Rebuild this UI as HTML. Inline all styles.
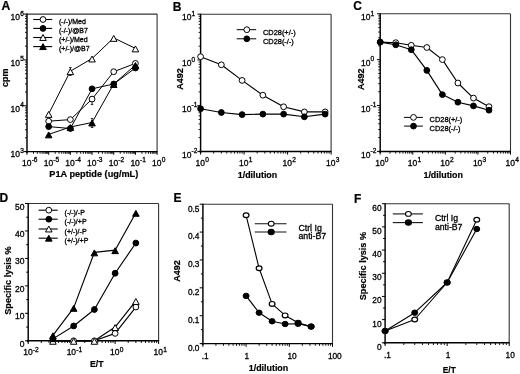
<!DOCTYPE html>
<html><head><meta charset="utf-8"><style>
html,body{margin:0;padding:0;background:#fff;}
svg{display:block;font-family:"Liberation Sans", sans-serif;filter:grayscale(1) blur(0.25px);}
</style></head><body>
<svg width="520" height="374" viewBox="0 0 520 374">
<rect width="520" height="374" fill="#fff"/>
<line x1="27" y1="14.1" x2="157.1" y2="14.1" stroke="#333" stroke-width="1.1"/>
<line x1="157.1" y1="14.1" x2="157.1" y2="151.6" stroke="#333" stroke-width="1.1"/>
<line x1="27" y1="13.6" x2="27" y2="153.1" stroke="#000" stroke-width="1.45"/>
<line x1="25.5" y1="151.6" x2="157.6" y2="151.6" stroke="#000" stroke-width="1.45"/>
<line x1="23.8" y1="151.6" x2="27" y2="151.6" stroke="#000" stroke-width="1"/>
<line x1="25" y1="137.8" x2="27" y2="137.8" stroke="#000" stroke-width="0.9"/>
<line x1="25" y1="129.73" x2="27" y2="129.73" stroke="#000" stroke-width="0.9"/>
<line x1="25" y1="124.01" x2="27" y2="124.01" stroke="#000" stroke-width="0.9"/>
<line x1="25" y1="119.56" x2="27" y2="119.56" stroke="#000" stroke-width="0.9"/>
<line x1="25" y1="115.93" x2="27" y2="115.93" stroke="#000" stroke-width="0.9"/>
<line x1="25" y1="112.87" x2="27" y2="112.87" stroke="#000" stroke-width="0.9"/>
<line x1="25" y1="110.21" x2="27" y2="110.21" stroke="#000" stroke-width="0.9"/>
<line x1="25" y1="107.86" x2="27" y2="107.86" stroke="#000" stroke-width="0.9"/>
<line x1="23.8" y1="105.77" x2="27" y2="105.77" stroke="#000" stroke-width="1"/>
<line x1="25" y1="91.97" x2="27" y2="91.97" stroke="#000" stroke-width="0.9"/>
<line x1="25" y1="83.9" x2="27" y2="83.9" stroke="#000" stroke-width="0.9"/>
<line x1="25" y1="78.17" x2="27" y2="78.17" stroke="#000" stroke-width="0.9"/>
<line x1="25" y1="73.73" x2="27" y2="73.73" stroke="#000" stroke-width="0.9"/>
<line x1="25" y1="70.1" x2="27" y2="70.1" stroke="#000" stroke-width="0.9"/>
<line x1="25" y1="67.03" x2="27" y2="67.03" stroke="#000" stroke-width="0.9"/>
<line x1="25" y1="64.38" x2="27" y2="64.38" stroke="#000" stroke-width="0.9"/>
<line x1="25" y1="62.03" x2="27" y2="62.03" stroke="#000" stroke-width="0.9"/>
<line x1="23.8" y1="59.93" x2="27" y2="59.93" stroke="#000" stroke-width="1"/>
<line x1="25" y1="46.14" x2="27" y2="46.14" stroke="#000" stroke-width="0.9"/>
<line x1="25" y1="38.07" x2="27" y2="38.07" stroke="#000" stroke-width="0.9"/>
<line x1="25" y1="32.34" x2="27" y2="32.34" stroke="#000" stroke-width="0.9"/>
<line x1="25" y1="27.9" x2="27" y2="27.9" stroke="#000" stroke-width="0.9"/>
<line x1="25" y1="24.27" x2="27" y2="24.27" stroke="#000" stroke-width="0.9"/>
<line x1="25" y1="21.2" x2="27" y2="21.2" stroke="#000" stroke-width="0.9"/>
<line x1="25" y1="18.54" x2="27" y2="18.54" stroke="#000" stroke-width="0.9"/>
<line x1="25" y1="16.2" x2="27" y2="16.2" stroke="#000" stroke-width="0.9"/>
<line x1="23.8" y1="14.1" x2="27" y2="14.1" stroke="#000" stroke-width="1"/>
<line x1="27" y1="151.6" x2="27" y2="154.8" stroke="#000" stroke-width="1"/>
<line x1="33.53" y1="151.6" x2="33.53" y2="153.8" stroke="#000" stroke-width="0.9"/>
<line x1="37.35" y1="151.6" x2="37.35" y2="153.8" stroke="#000" stroke-width="0.9"/>
<line x1="40.05" y1="151.6" x2="40.05" y2="153.8" stroke="#000" stroke-width="0.9"/>
<line x1="42.16" y1="151.6" x2="42.16" y2="153.8" stroke="#000" stroke-width="0.9"/>
<line x1="43.87" y1="151.6" x2="43.87" y2="153.8" stroke="#000" stroke-width="0.9"/>
<line x1="45.32" y1="151.6" x2="45.32" y2="153.8" stroke="#000" stroke-width="0.9"/>
<line x1="46.58" y1="151.6" x2="46.58" y2="153.8" stroke="#000" stroke-width="0.9"/>
<line x1="47.69" y1="151.6" x2="47.69" y2="153.8" stroke="#000" stroke-width="0.9"/>
<line x1="48.68" y1="151.6" x2="48.68" y2="154.8" stroke="#000" stroke-width="1"/>
<line x1="55.21" y1="151.6" x2="55.21" y2="153.8" stroke="#000" stroke-width="0.9"/>
<line x1="59.03" y1="151.6" x2="59.03" y2="153.8" stroke="#000" stroke-width="0.9"/>
<line x1="61.74" y1="151.6" x2="61.74" y2="153.8" stroke="#000" stroke-width="0.9"/>
<line x1="63.84" y1="151.6" x2="63.84" y2="153.8" stroke="#000" stroke-width="0.9"/>
<line x1="65.56" y1="151.6" x2="65.56" y2="153.8" stroke="#000" stroke-width="0.9"/>
<line x1="67.01" y1="151.6" x2="67.01" y2="153.8" stroke="#000" stroke-width="0.9"/>
<line x1="68.27" y1="151.6" x2="68.27" y2="153.8" stroke="#000" stroke-width="0.9"/>
<line x1="69.37" y1="151.6" x2="69.37" y2="153.8" stroke="#000" stroke-width="0.9"/>
<line x1="70.37" y1="151.6" x2="70.37" y2="154.8" stroke="#000" stroke-width="1"/>
<line x1="76.89" y1="151.6" x2="76.89" y2="153.8" stroke="#000" stroke-width="0.9"/>
<line x1="80.71" y1="151.6" x2="80.71" y2="153.8" stroke="#000" stroke-width="0.9"/>
<line x1="83.42" y1="151.6" x2="83.42" y2="153.8" stroke="#000" stroke-width="0.9"/>
<line x1="85.52" y1="151.6" x2="85.52" y2="153.8" stroke="#000" stroke-width="0.9"/>
<line x1="87.24" y1="151.6" x2="87.24" y2="153.8" stroke="#000" stroke-width="0.9"/>
<line x1="88.69" y1="151.6" x2="88.69" y2="153.8" stroke="#000" stroke-width="0.9"/>
<line x1="89.95" y1="151.6" x2="89.95" y2="153.8" stroke="#000" stroke-width="0.9"/>
<line x1="91.06" y1="151.6" x2="91.06" y2="153.8" stroke="#000" stroke-width="0.9"/>
<line x1="92.05" y1="151.6" x2="92.05" y2="154.8" stroke="#000" stroke-width="1"/>
<line x1="98.58" y1="151.6" x2="98.58" y2="153.8" stroke="#000" stroke-width="0.9"/>
<line x1="102.4" y1="151.6" x2="102.4" y2="153.8" stroke="#000" stroke-width="0.9"/>
<line x1="105.1" y1="151.6" x2="105.1" y2="153.8" stroke="#000" stroke-width="0.9"/>
<line x1="107.21" y1="151.6" x2="107.21" y2="153.8" stroke="#000" stroke-width="0.9"/>
<line x1="108.92" y1="151.6" x2="108.92" y2="153.8" stroke="#000" stroke-width="0.9"/>
<line x1="110.37" y1="151.6" x2="110.37" y2="153.8" stroke="#000" stroke-width="0.9"/>
<line x1="111.63" y1="151.6" x2="111.63" y2="153.8" stroke="#000" stroke-width="0.9"/>
<line x1="112.74" y1="151.6" x2="112.74" y2="153.8" stroke="#000" stroke-width="0.9"/>
<line x1="113.73" y1="151.6" x2="113.73" y2="154.8" stroke="#000" stroke-width="1"/>
<line x1="120.26" y1="151.6" x2="120.26" y2="153.8" stroke="#000" stroke-width="0.9"/>
<line x1="124.08" y1="151.6" x2="124.08" y2="153.8" stroke="#000" stroke-width="0.9"/>
<line x1="126.79" y1="151.6" x2="126.79" y2="153.8" stroke="#000" stroke-width="0.9"/>
<line x1="128.89" y1="151.6" x2="128.89" y2="153.8" stroke="#000" stroke-width="0.9"/>
<line x1="130.61" y1="151.6" x2="130.61" y2="153.8" stroke="#000" stroke-width="0.9"/>
<line x1="132.06" y1="151.6" x2="132.06" y2="153.8" stroke="#000" stroke-width="0.9"/>
<line x1="133.32" y1="151.6" x2="133.32" y2="153.8" stroke="#000" stroke-width="0.9"/>
<line x1="134.42" y1="151.6" x2="134.42" y2="153.8" stroke="#000" stroke-width="0.9"/>
<line x1="135.42" y1="151.6" x2="135.42" y2="154.8" stroke="#000" stroke-width="1"/>
<line x1="141.94" y1="151.6" x2="141.94" y2="153.8" stroke="#000" stroke-width="0.9"/>
<line x1="145.76" y1="151.6" x2="145.76" y2="153.8" stroke="#000" stroke-width="0.9"/>
<line x1="148.47" y1="151.6" x2="148.47" y2="153.8" stroke="#000" stroke-width="0.9"/>
<line x1="150.57" y1="151.6" x2="150.57" y2="153.8" stroke="#000" stroke-width="0.9"/>
<line x1="152.29" y1="151.6" x2="152.29" y2="153.8" stroke="#000" stroke-width="0.9"/>
<line x1="153.74" y1="151.6" x2="153.74" y2="153.8" stroke="#000" stroke-width="0.9"/>
<line x1="155" y1="151.6" x2="155" y2="153.8" stroke="#000" stroke-width="0.9"/>
<line x1="156.11" y1="151.6" x2="156.11" y2="153.8" stroke="#000" stroke-width="0.9"/>
<line x1="157.1" y1="151.6" x2="157.1" y2="154.8" stroke="#000" stroke-width="1"/>
<text x="10.6" y="19.9" font-size="8.5" stroke="#000" stroke-width="0.3" fill="#000">10</text>
<text x="20.15" y="15.6" font-size="6.6" stroke="#000" stroke-width="0.3" fill="#000">6</text>
<text x="10.6" y="65.73" font-size="8.5" stroke="#000" stroke-width="0.3" fill="#000">10</text>
<text x="20.15" y="61.43" font-size="6.6" stroke="#000" stroke-width="0.3" fill="#000">5</text>
<text x="10.6" y="111.57" font-size="8.5" stroke="#000" stroke-width="0.3" fill="#000">10</text>
<text x="20.15" y="107.27" font-size="6.6" stroke="#000" stroke-width="0.3" fill="#000">4</text>
<text x="10.6" y="157.4" font-size="8.5" stroke="#000" stroke-width="0.3" fill="#000">10</text>
<text x="20.15" y="153.1" font-size="6.6" stroke="#000" stroke-width="0.3" fill="#000">3</text>
<text x="21.97" y="166.2" font-size="8.5" stroke="#000" stroke-width="0.3" fill="#000">10</text>
<text x="31.63" y="162.4" font-size="6.6" stroke="#000" stroke-width="0.3" fill="#000">-6</text>
<text x="43.66" y="166.2" font-size="8.5" stroke="#000" stroke-width="0.3" fill="#000">10</text>
<text x="53.31" y="162.4" font-size="6.6" stroke="#000" stroke-width="0.3" fill="#000">-5</text>
<text x="65.34" y="166.2" font-size="8.5" stroke="#000" stroke-width="0.3" fill="#000">10</text>
<text x="74.99" y="162.4" font-size="6.6" stroke="#000" stroke-width="0.3" fill="#000">-4</text>
<text x="87.02" y="166.2" font-size="8.5" stroke="#000" stroke-width="0.3" fill="#000">10</text>
<text x="96.68" y="162.4" font-size="6.6" stroke="#000" stroke-width="0.3" fill="#000">-3</text>
<text x="108.71" y="166.2" font-size="8.5" stroke="#000" stroke-width="0.3" fill="#000">10</text>
<text x="118.36" y="162.4" font-size="6.6" stroke="#000" stroke-width="0.3" fill="#000">-2</text>
<text x="130.39" y="166.2" font-size="8.5" stroke="#000" stroke-width="0.3" fill="#000">10</text>
<text x="140.04" y="162.4" font-size="6.6" stroke="#000" stroke-width="0.3" fill="#000">-1</text>
<text x="152.07" y="166.2" font-size="8.5" stroke="#000" stroke-width="0.3" fill="#000">10</text>
<text x="161.73" y="162.4" font-size="6.6" stroke="#000" stroke-width="0.3" fill="#000">0</text>
<text x="1.4" y="10.2" font-size="12.2" font-weight="bold" stroke="#000" stroke-width="0.2" fill="#000">A</text>
<text x="8" y="77.7" font-size="9" text-anchor="middle" font-weight="bold" transform="rotate(-90 8 77.7)" stroke="#000" stroke-width="0.2" fill="#000">cpm</text>
<text x="93.8" y="176.9" font-size="9.2" text-anchor="middle" font-weight="bold" stroke="#000" stroke-width="0.2" fill="#000">P1A peptide (ug/mL)</text>
<polyline points="48.68,113.9 70.37,71.2 92.05,58.5 113.73,37.9 135.42,48.4" fill="none" stroke="#000" stroke-width="1" stroke-linejoin="round"/>
<polyline points="48.68,121.2 70.37,119.6 92.05,99.1 113.73,71.7 135.42,63.4" fill="none" stroke="#000" stroke-width="1" stroke-linejoin="round"/>
<polyline points="48.68,126.6 70.37,128.5 92.05,88.8 113.73,84 135.42,68" fill="none" stroke="#000" stroke-width="1" stroke-linejoin="round"/>
<polyline points="48.68,134.4 70.37,127 92.05,122.5 113.73,84 135.42,65" fill="none" stroke="#000" stroke-width="1" stroke-linejoin="round"/>
<line x1="70.37" y1="67.5" x2="70.37" y2="75.5" stroke="#000" stroke-width="0.9"/>
<line x1="69.17" y1="67.5" x2="71.57" y2="67.5" stroke="#000" stroke-width="0.8"/>
<line x1="69.17" y1="75.5" x2="71.57" y2="75.5" stroke="#000" stroke-width="0.8"/>
<line x1="92.05" y1="96.5" x2="92.05" y2="104.5" stroke="#000" stroke-width="0.9"/>
<line x1="90.85" y1="96.5" x2="93.25" y2="96.5" stroke="#000" stroke-width="0.8"/>
<line x1="90.85" y1="104.5" x2="93.25" y2="104.5" stroke="#000" stroke-width="0.8"/>
<line x1="92.05" y1="118.5" x2="92.05" y2="127.5" stroke="#000" stroke-width="0.9"/>
<line x1="90.85" y1="118.5" x2="93.25" y2="118.5" stroke="#000" stroke-width="0.8"/>
<line x1="90.85" y1="127.5" x2="93.25" y2="127.5" stroke="#000" stroke-width="0.8"/>
<polygon points="48.68,111.45 51.98,117.35 45.38,117.35" fill="#fff" stroke="#000" stroke-width="1" stroke-linejoin="miter"/>
<polygon points="70.37,68.75 73.67,74.65 67.07,74.65" fill="#fff" stroke="#000" stroke-width="1" stroke-linejoin="miter"/>
<polygon points="92.05,56.05 95.35,61.95 88.75,61.95" fill="#fff" stroke="#000" stroke-width="1" stroke-linejoin="miter"/>
<polygon points="113.73,35.45 117.03,41.35 110.43,41.35" fill="#fff" stroke="#000" stroke-width="1" stroke-linejoin="miter"/>
<polygon points="135.42,45.95 138.72,51.85 132.12,51.85" fill="#fff" stroke="#000" stroke-width="1" stroke-linejoin="miter"/>
<circle cx="48.68" cy="121.2" r="2.9" fill="#fff" stroke="#000" stroke-width="1"/>
<circle cx="70.37" cy="119.6" r="2.9" fill="#fff" stroke="#000" stroke-width="1"/>
<circle cx="92.05" cy="99.1" r="2.9" fill="#fff" stroke="#000" stroke-width="1"/>
<circle cx="113.73" cy="71.7" r="2.9" fill="#fff" stroke="#000" stroke-width="1"/>
<circle cx="135.42" cy="63.4" r="2.9" fill="#fff" stroke="#000" stroke-width="1"/>
<circle cx="48.68" cy="126.6" r="2.9" fill="#000" stroke="#000" stroke-width="1"/>
<circle cx="70.37" cy="128.5" r="2.9" fill="#000" stroke="#000" stroke-width="1"/>
<circle cx="92.05" cy="88.8" r="2.9" fill="#000" stroke="#000" stroke-width="1"/>
<circle cx="113.73" cy="84" r="2.9" fill="#000" stroke="#000" stroke-width="1"/>
<circle cx="135.42" cy="68" r="2.9" fill="#000" stroke="#000" stroke-width="1"/>
<polygon points="48.68,131.95 51.98,137.85 45.38,137.85" fill="#000" stroke="#000" stroke-width="1" stroke-linejoin="miter"/>
<polygon points="70.37,124.55 73.67,130.45 67.07,130.45" fill="#000" stroke="#000" stroke-width="1" stroke-linejoin="miter"/>
<polygon points="92.05,120.05 95.35,125.95 88.75,125.95" fill="#000" stroke="#000" stroke-width="1" stroke-linejoin="miter"/>
<polygon points="113.73,81.55 117.03,87.45 110.43,87.45" fill="#000" stroke="#000" stroke-width="1" stroke-linejoin="miter"/>
<polygon points="135.42,62.55 138.72,68.45 132.12,68.45" fill="#000" stroke="#000" stroke-width="1" stroke-linejoin="miter"/>
<line x1="33.2" y1="19.5" x2="52.2" y2="19.5" stroke="#000" stroke-width="1.1"/>
<circle cx="43" cy="19.5" r="2.9" fill="#fff" stroke="#000" stroke-width="1"/>
<text x="59" y="23.8" font-size="7" stroke="#000" stroke-width="0.3" fill="#000">(-/-)/Med</text>
<line x1="33.2" y1="28.4" x2="52.2" y2="28.4" stroke="#000" stroke-width="1.1"/>
<circle cx="43" cy="28.4" r="2.9" fill="#000" stroke="#000" stroke-width="1"/>
<text x="59" y="32.7" font-size="7" stroke="#000" stroke-width="0.3" fill="#000">(-/-)/@B7</text>
<line x1="33.2" y1="37.5" x2="52.2" y2="37.5" stroke="#000" stroke-width="1.1"/>
<polygon points="43,34.55 46.3,40.45 39.7,40.45" fill="#fff" stroke="#000" stroke-width="1" stroke-linejoin="miter"/>
<text x="59" y="41.8" font-size="7" stroke="#000" stroke-width="0.3" fill="#000">(+/-)/Med</text>
<line x1="33.2" y1="46.6" x2="52.2" y2="46.6" stroke="#000" stroke-width="1.1"/>
<polygon points="43,43.65 46.3,49.55 39.7,49.55" fill="#000" stroke="#000" stroke-width="1" stroke-linejoin="miter"/>
<text x="59" y="50.9" font-size="7" stroke="#000" stroke-width="0.3" fill="#000">(+/-)/@B7</text>
<line x1="200.6" y1="14.2" x2="331.1" y2="14.2" stroke="#333" stroke-width="1.1"/>
<line x1="331.1" y1="14.2" x2="331.1" y2="151.4" stroke="#333" stroke-width="1.1"/>
<line x1="200.6" y1="13.7" x2="200.6" y2="152.9" stroke="#000" stroke-width="1.45"/>
<line x1="199.1" y1="151.4" x2="331.6" y2="151.4" stroke="#000" stroke-width="1.45"/>
<line x1="197.4" y1="151.4" x2="200.6" y2="151.4" stroke="#000" stroke-width="1"/>
<line x1="198.6" y1="137.63" x2="200.6" y2="137.63" stroke="#000" stroke-width="0.9"/>
<line x1="198.6" y1="129.58" x2="200.6" y2="129.58" stroke="#000" stroke-width="0.9"/>
<line x1="198.6" y1="123.87" x2="200.6" y2="123.87" stroke="#000" stroke-width="0.9"/>
<line x1="198.6" y1="119.43" x2="200.6" y2="119.43" stroke="#000" stroke-width="0.9"/>
<line x1="198.6" y1="115.81" x2="200.6" y2="115.81" stroke="#000" stroke-width="0.9"/>
<line x1="198.6" y1="112.75" x2="200.6" y2="112.75" stroke="#000" stroke-width="0.9"/>
<line x1="198.6" y1="110.1" x2="200.6" y2="110.1" stroke="#000" stroke-width="0.9"/>
<line x1="198.6" y1="107.76" x2="200.6" y2="107.76" stroke="#000" stroke-width="0.9"/>
<line x1="197.4" y1="105.67" x2="200.6" y2="105.67" stroke="#000" stroke-width="1"/>
<line x1="198.6" y1="91.9" x2="200.6" y2="91.9" stroke="#000" stroke-width="0.9"/>
<line x1="198.6" y1="83.85" x2="200.6" y2="83.85" stroke="#000" stroke-width="0.9"/>
<line x1="198.6" y1="78.13" x2="200.6" y2="78.13" stroke="#000" stroke-width="0.9"/>
<line x1="198.6" y1="73.7" x2="200.6" y2="73.7" stroke="#000" stroke-width="0.9"/>
<line x1="198.6" y1="70.08" x2="200.6" y2="70.08" stroke="#000" stroke-width="0.9"/>
<line x1="198.6" y1="67.02" x2="200.6" y2="67.02" stroke="#000" stroke-width="0.9"/>
<line x1="198.6" y1="64.37" x2="200.6" y2="64.37" stroke="#000" stroke-width="0.9"/>
<line x1="198.6" y1="62.03" x2="200.6" y2="62.03" stroke="#000" stroke-width="0.9"/>
<line x1="197.4" y1="59.93" x2="200.6" y2="59.93" stroke="#000" stroke-width="1"/>
<line x1="198.6" y1="46.17" x2="200.6" y2="46.17" stroke="#000" stroke-width="0.9"/>
<line x1="198.6" y1="38.11" x2="200.6" y2="38.11" stroke="#000" stroke-width="0.9"/>
<line x1="198.6" y1="32.4" x2="200.6" y2="32.4" stroke="#000" stroke-width="0.9"/>
<line x1="198.6" y1="27.97" x2="200.6" y2="27.97" stroke="#000" stroke-width="0.9"/>
<line x1="198.6" y1="24.35" x2="200.6" y2="24.35" stroke="#000" stroke-width="0.9"/>
<line x1="198.6" y1="21.28" x2="200.6" y2="21.28" stroke="#000" stroke-width="0.9"/>
<line x1="198.6" y1="18.63" x2="200.6" y2="18.63" stroke="#000" stroke-width="0.9"/>
<line x1="198.6" y1="16.29" x2="200.6" y2="16.29" stroke="#000" stroke-width="0.9"/>
<line x1="197.4" y1="14.2" x2="200.6" y2="14.2" stroke="#000" stroke-width="1"/>
<line x1="200.6" y1="151.4" x2="200.6" y2="154.6" stroke="#000" stroke-width="1"/>
<line x1="213.69" y1="151.4" x2="213.69" y2="153.6" stroke="#000" stroke-width="0.9"/>
<line x1="221.35" y1="151.4" x2="221.35" y2="153.6" stroke="#000" stroke-width="0.9"/>
<line x1="226.79" y1="151.4" x2="226.79" y2="153.6" stroke="#000" stroke-width="0.9"/>
<line x1="231.01" y1="151.4" x2="231.01" y2="153.6" stroke="#000" stroke-width="0.9"/>
<line x1="234.45" y1="151.4" x2="234.45" y2="153.6" stroke="#000" stroke-width="0.9"/>
<line x1="237.36" y1="151.4" x2="237.36" y2="153.6" stroke="#000" stroke-width="0.9"/>
<line x1="239.88" y1="151.4" x2="239.88" y2="153.6" stroke="#000" stroke-width="0.9"/>
<line x1="242.11" y1="151.4" x2="242.11" y2="153.6" stroke="#000" stroke-width="0.9"/>
<line x1="244.1" y1="151.4" x2="244.1" y2="154.6" stroke="#000" stroke-width="1"/>
<line x1="257.19" y1="151.4" x2="257.19" y2="153.6" stroke="#000" stroke-width="0.9"/>
<line x1="264.85" y1="151.4" x2="264.85" y2="153.6" stroke="#000" stroke-width="0.9"/>
<line x1="270.29" y1="151.4" x2="270.29" y2="153.6" stroke="#000" stroke-width="0.9"/>
<line x1="274.51" y1="151.4" x2="274.51" y2="153.6" stroke="#000" stroke-width="0.9"/>
<line x1="277.95" y1="151.4" x2="277.95" y2="153.6" stroke="#000" stroke-width="0.9"/>
<line x1="280.86" y1="151.4" x2="280.86" y2="153.6" stroke="#000" stroke-width="0.9"/>
<line x1="283.38" y1="151.4" x2="283.38" y2="153.6" stroke="#000" stroke-width="0.9"/>
<line x1="285.61" y1="151.4" x2="285.61" y2="153.6" stroke="#000" stroke-width="0.9"/>
<line x1="287.6" y1="151.4" x2="287.6" y2="154.6" stroke="#000" stroke-width="1"/>
<line x1="300.69" y1="151.4" x2="300.69" y2="153.6" stroke="#000" stroke-width="0.9"/>
<line x1="308.35" y1="151.4" x2="308.35" y2="153.6" stroke="#000" stroke-width="0.9"/>
<line x1="313.79" y1="151.4" x2="313.79" y2="153.6" stroke="#000" stroke-width="0.9"/>
<line x1="318.01" y1="151.4" x2="318.01" y2="153.6" stroke="#000" stroke-width="0.9"/>
<line x1="321.45" y1="151.4" x2="321.45" y2="153.6" stroke="#000" stroke-width="0.9"/>
<line x1="324.36" y1="151.4" x2="324.36" y2="153.6" stroke="#000" stroke-width="0.9"/>
<line x1="326.88" y1="151.4" x2="326.88" y2="153.6" stroke="#000" stroke-width="0.9"/>
<line x1="329.11" y1="151.4" x2="329.11" y2="153.6" stroke="#000" stroke-width="0.9"/>
<line x1="331.1" y1="151.4" x2="331.1" y2="154.6" stroke="#000" stroke-width="1"/>
<text x="182" y="20.3" font-size="8.5" stroke="#000" stroke-width="0.3" fill="#000">10</text>
<text x="191.55" y="16" font-size="6.6" stroke="#000" stroke-width="0.3" fill="#000">1</text>
<text x="182" y="66.03" font-size="8.5" stroke="#000" stroke-width="0.3" fill="#000">10</text>
<text x="191.55" y="61.73" font-size="6.6" stroke="#000" stroke-width="0.3" fill="#000">0</text>
<text x="182" y="111.77" font-size="8.5" stroke="#000" stroke-width="0.3" fill="#000">10</text>
<text x="191.55" y="107.47" font-size="6.6" stroke="#000" stroke-width="0.3" fill="#000">-1</text>
<text x="182" y="157.5" font-size="8.5" stroke="#000" stroke-width="0.3" fill="#000">10</text>
<text x="191.55" y="153.2" font-size="6.6" stroke="#000" stroke-width="0.3" fill="#000">-2</text>
<text x="195.57" y="166" font-size="8.5" stroke="#000" stroke-width="0.3" fill="#000">10</text>
<text x="205.23" y="162.2" font-size="6.6" stroke="#000" stroke-width="0.3" fill="#000">0</text>
<text x="239.07" y="166" font-size="8.5" stroke="#000" stroke-width="0.3" fill="#000">10</text>
<text x="248.73" y="162.2" font-size="6.6" stroke="#000" stroke-width="0.3" fill="#000">1</text>
<text x="282.57" y="166" font-size="8.5" stroke="#000" stroke-width="0.3" fill="#000">10</text>
<text x="292.23" y="162.2" font-size="6.6" stroke="#000" stroke-width="0.3" fill="#000">2</text>
<text x="326.07" y="166" font-size="8.5" stroke="#000" stroke-width="0.3" fill="#000">10</text>
<text x="335.73" y="162.2" font-size="6.6" stroke="#000" stroke-width="0.3" fill="#000">3</text>
<text x="172.8" y="10.5" font-size="12" font-weight="bold" stroke="#000" stroke-width="0.2" fill="#000">B</text>
<text x="183.4" y="79" font-size="9" text-anchor="middle" font-weight="bold" transform="rotate(-90 183.4 79)" stroke="#000" stroke-width="0.2" fill="#000">A492</text>
<text x="257.5" y="178.2" font-size="8.9" text-anchor="middle" font-weight="bold" stroke="#000" stroke-width="0.2" fill="#000">1/dilution</text>
<polyline points="200.6,56.7 221.35,64.8 242.11,80.4 262.86,95.2 283.62,106.8 304.37,111.9 325.13,111.9" fill="none" stroke="#000" stroke-width="1.15" stroke-linejoin="round"/>
<polyline points="200.6,108.7 221.35,112.5 242.11,114.6 262.86,114.1 283.62,114.1 304.37,116.8 325.13,114.1" fill="none" stroke="#000" stroke-width="1.15" stroke-linejoin="round"/>
<circle cx="200.6" cy="56.7" r="2.9" fill="#fff" stroke="#000" stroke-width="1"/>
<circle cx="221.35" cy="64.8" r="2.9" fill="#fff" stroke="#000" stroke-width="1"/>
<circle cx="242.11" cy="80.4" r="2.9" fill="#fff" stroke="#000" stroke-width="1"/>
<circle cx="262.86" cy="95.2" r="2.9" fill="#fff" stroke="#000" stroke-width="1"/>
<circle cx="283.62" cy="106.8" r="2.9" fill="#fff" stroke="#000" stroke-width="1"/>
<circle cx="304.37" cy="111.9" r="2.9" fill="#fff" stroke="#000" stroke-width="1"/>
<circle cx="325.13" cy="111.9" r="2.9" fill="#fff" stroke="#000" stroke-width="1"/>
<circle cx="200.6" cy="108.7" r="2.9" fill="#000" stroke="#000" stroke-width="1"/>
<circle cx="221.35" cy="112.5" r="2.9" fill="#000" stroke="#000" stroke-width="1"/>
<circle cx="242.11" cy="114.6" r="2.9" fill="#000" stroke="#000" stroke-width="1"/>
<circle cx="262.86" cy="114.1" r="2.9" fill="#000" stroke="#000" stroke-width="1"/>
<circle cx="283.62" cy="114.1" r="2.9" fill="#000" stroke="#000" stroke-width="1"/>
<circle cx="304.37" cy="116.8" r="2.9" fill="#000" stroke="#000" stroke-width="1"/>
<circle cx="325.13" cy="114.1" r="2.9" fill="#000" stroke="#000" stroke-width="1"/>
<line x1="236.7" y1="29.7" x2="256.2" y2="29.7" stroke="#000" stroke-width="1"/>
<circle cx="246.8" cy="29.7" r="2.9" fill="#fff" stroke="#000" stroke-width="1"/>
<text x="263" y="34.7" font-size="7.4" stroke="#000" stroke-width="0.3" fill="#000">CD28(+/-)</text>
<line x1="236.7" y1="38.8" x2="256.2" y2="38.8" stroke="#000" stroke-width="1"/>
<circle cx="246.8" cy="38.8" r="2.9" fill="#000" stroke="#000" stroke-width="1"/>
<text x="263" y="43.8" font-size="7.4" stroke="#000" stroke-width="0.3" fill="#000">CD28(-/-)</text>
<line x1="380.2" y1="13.8" x2="510.5" y2="13.8" stroke="#333" stroke-width="1.1"/>
<line x1="510.5" y1="13.8" x2="510.5" y2="151.4" stroke="#333" stroke-width="1.1"/>
<line x1="380.2" y1="13.3" x2="380.2" y2="152.9" stroke="#000" stroke-width="1.45"/>
<line x1="378.7" y1="151.4" x2="511" y2="151.4" stroke="#000" stroke-width="1.45"/>
<line x1="377" y1="151.4" x2="380.2" y2="151.4" stroke="#000" stroke-width="1"/>
<line x1="378.2" y1="137.59" x2="380.2" y2="137.59" stroke="#000" stroke-width="0.9"/>
<line x1="378.2" y1="129.52" x2="380.2" y2="129.52" stroke="#000" stroke-width="0.9"/>
<line x1="378.2" y1="123.79" x2="380.2" y2="123.79" stroke="#000" stroke-width="0.9"/>
<line x1="378.2" y1="119.34" x2="380.2" y2="119.34" stroke="#000" stroke-width="0.9"/>
<line x1="378.2" y1="115.71" x2="380.2" y2="115.71" stroke="#000" stroke-width="0.9"/>
<line x1="378.2" y1="112.64" x2="380.2" y2="112.64" stroke="#000" stroke-width="0.9"/>
<line x1="378.2" y1="109.98" x2="380.2" y2="109.98" stroke="#000" stroke-width="0.9"/>
<line x1="378.2" y1="107.63" x2="380.2" y2="107.63" stroke="#000" stroke-width="0.9"/>
<line x1="377" y1="105.53" x2="380.2" y2="105.53" stroke="#000" stroke-width="1"/>
<line x1="378.2" y1="91.73" x2="380.2" y2="91.73" stroke="#000" stroke-width="0.9"/>
<line x1="378.2" y1="83.65" x2="380.2" y2="83.65" stroke="#000" stroke-width="0.9"/>
<line x1="378.2" y1="77.92" x2="380.2" y2="77.92" stroke="#000" stroke-width="0.9"/>
<line x1="378.2" y1="73.47" x2="380.2" y2="73.47" stroke="#000" stroke-width="0.9"/>
<line x1="378.2" y1="69.84" x2="380.2" y2="69.84" stroke="#000" stroke-width="0.9"/>
<line x1="378.2" y1="66.77" x2="380.2" y2="66.77" stroke="#000" stroke-width="0.9"/>
<line x1="378.2" y1="64.11" x2="380.2" y2="64.11" stroke="#000" stroke-width="0.9"/>
<line x1="378.2" y1="61.77" x2="380.2" y2="61.77" stroke="#000" stroke-width="0.9"/>
<line x1="377" y1="59.67" x2="380.2" y2="59.67" stroke="#000" stroke-width="1"/>
<line x1="378.2" y1="45.86" x2="380.2" y2="45.86" stroke="#000" stroke-width="0.9"/>
<line x1="378.2" y1="37.78" x2="380.2" y2="37.78" stroke="#000" stroke-width="0.9"/>
<line x1="378.2" y1="32.05" x2="380.2" y2="32.05" stroke="#000" stroke-width="0.9"/>
<line x1="378.2" y1="27.61" x2="380.2" y2="27.61" stroke="#000" stroke-width="0.9"/>
<line x1="378.2" y1="23.98" x2="380.2" y2="23.98" stroke="#000" stroke-width="0.9"/>
<line x1="378.2" y1="20.9" x2="380.2" y2="20.9" stroke="#000" stroke-width="0.9"/>
<line x1="378.2" y1="18.24" x2="380.2" y2="18.24" stroke="#000" stroke-width="0.9"/>
<line x1="378.2" y1="15.9" x2="380.2" y2="15.9" stroke="#000" stroke-width="0.9"/>
<line x1="377" y1="13.8" x2="380.2" y2="13.8" stroke="#000" stroke-width="1"/>
<line x1="380.2" y1="151.4" x2="380.2" y2="154.6" stroke="#000" stroke-width="1"/>
<line x1="390.01" y1="151.4" x2="390.01" y2="153.6" stroke="#000" stroke-width="0.9"/>
<line x1="395.74" y1="151.4" x2="395.74" y2="153.6" stroke="#000" stroke-width="0.9"/>
<line x1="399.81" y1="151.4" x2="399.81" y2="153.6" stroke="#000" stroke-width="0.9"/>
<line x1="402.97" y1="151.4" x2="402.97" y2="153.6" stroke="#000" stroke-width="0.9"/>
<line x1="405.55" y1="151.4" x2="405.55" y2="153.6" stroke="#000" stroke-width="0.9"/>
<line x1="407.73" y1="151.4" x2="407.73" y2="153.6" stroke="#000" stroke-width="0.9"/>
<line x1="409.62" y1="151.4" x2="409.62" y2="153.6" stroke="#000" stroke-width="0.9"/>
<line x1="411.28" y1="151.4" x2="411.28" y2="153.6" stroke="#000" stroke-width="0.9"/>
<line x1="412.77" y1="151.4" x2="412.77" y2="154.6" stroke="#000" stroke-width="1"/>
<line x1="422.58" y1="151.4" x2="422.58" y2="153.6" stroke="#000" stroke-width="0.9"/>
<line x1="428.32" y1="151.4" x2="428.32" y2="153.6" stroke="#000" stroke-width="0.9"/>
<line x1="432.39" y1="151.4" x2="432.39" y2="153.6" stroke="#000" stroke-width="0.9"/>
<line x1="435.54" y1="151.4" x2="435.54" y2="153.6" stroke="#000" stroke-width="0.9"/>
<line x1="438.12" y1="151.4" x2="438.12" y2="153.6" stroke="#000" stroke-width="0.9"/>
<line x1="440.3" y1="151.4" x2="440.3" y2="153.6" stroke="#000" stroke-width="0.9"/>
<line x1="442.19" y1="151.4" x2="442.19" y2="153.6" stroke="#000" stroke-width="0.9"/>
<line x1="443.86" y1="151.4" x2="443.86" y2="153.6" stroke="#000" stroke-width="0.9"/>
<line x1="445.35" y1="151.4" x2="445.35" y2="154.6" stroke="#000" stroke-width="1"/>
<line x1="455.16" y1="151.4" x2="455.16" y2="153.6" stroke="#000" stroke-width="0.9"/>
<line x1="460.89" y1="151.4" x2="460.89" y2="153.6" stroke="#000" stroke-width="0.9"/>
<line x1="464.96" y1="151.4" x2="464.96" y2="153.6" stroke="#000" stroke-width="0.9"/>
<line x1="468.12" y1="151.4" x2="468.12" y2="153.6" stroke="#000" stroke-width="0.9"/>
<line x1="470.7" y1="151.4" x2="470.7" y2="153.6" stroke="#000" stroke-width="0.9"/>
<line x1="472.88" y1="151.4" x2="472.88" y2="153.6" stroke="#000" stroke-width="0.9"/>
<line x1="474.77" y1="151.4" x2="474.77" y2="153.6" stroke="#000" stroke-width="0.9"/>
<line x1="476.43" y1="151.4" x2="476.43" y2="153.6" stroke="#000" stroke-width="0.9"/>
<line x1="477.93" y1="151.4" x2="477.93" y2="154.6" stroke="#000" stroke-width="1"/>
<line x1="487.73" y1="151.4" x2="487.73" y2="153.6" stroke="#000" stroke-width="0.9"/>
<line x1="493.47" y1="151.4" x2="493.47" y2="153.6" stroke="#000" stroke-width="0.9"/>
<line x1="497.54" y1="151.4" x2="497.54" y2="153.6" stroke="#000" stroke-width="0.9"/>
<line x1="500.69" y1="151.4" x2="500.69" y2="153.6" stroke="#000" stroke-width="0.9"/>
<line x1="503.27" y1="151.4" x2="503.27" y2="153.6" stroke="#000" stroke-width="0.9"/>
<line x1="505.45" y1="151.4" x2="505.45" y2="153.6" stroke="#000" stroke-width="0.9"/>
<line x1="507.34" y1="151.4" x2="507.34" y2="153.6" stroke="#000" stroke-width="0.9"/>
<line x1="509.01" y1="151.4" x2="509.01" y2="153.6" stroke="#000" stroke-width="0.9"/>
<line x1="510.5" y1="151.4" x2="510.5" y2="154.6" stroke="#000" stroke-width="1"/>
<text x="361" y="19.9" font-size="8.5" stroke="#000" stroke-width="0.3" fill="#000">10</text>
<text x="370.55" y="15.6" font-size="6.6" stroke="#000" stroke-width="0.3" fill="#000">1</text>
<text x="361" y="65.77" font-size="8.5" stroke="#000" stroke-width="0.3" fill="#000">10</text>
<text x="370.55" y="61.47" font-size="6.6" stroke="#000" stroke-width="0.3" fill="#000">0</text>
<text x="361" y="111.63" font-size="8.5" stroke="#000" stroke-width="0.3" fill="#000">10</text>
<text x="370.55" y="107.33" font-size="6.6" stroke="#000" stroke-width="0.3" fill="#000">-1</text>
<text x="361" y="157.5" font-size="8.5" stroke="#000" stroke-width="0.3" fill="#000">10</text>
<text x="370.55" y="153.2" font-size="6.6" stroke="#000" stroke-width="0.3" fill="#000">-2</text>
<text x="375.17" y="166" font-size="8.5" stroke="#000" stroke-width="0.3" fill="#000">10</text>
<text x="384.83" y="162.2" font-size="6.6" stroke="#000" stroke-width="0.3" fill="#000">0</text>
<text x="407.75" y="166" font-size="8.5" stroke="#000" stroke-width="0.3" fill="#000">10</text>
<text x="417.4" y="162.2" font-size="6.6" stroke="#000" stroke-width="0.3" fill="#000">1</text>
<text x="440.32" y="166" font-size="8.5" stroke="#000" stroke-width="0.3" fill="#000">10</text>
<text x="449.98" y="162.2" font-size="6.6" stroke="#000" stroke-width="0.3" fill="#000">2</text>
<text x="472.9" y="166" font-size="8.5" stroke="#000" stroke-width="0.3" fill="#000">10</text>
<text x="482.55" y="162.2" font-size="6.6" stroke="#000" stroke-width="0.3" fill="#000">3</text>
<text x="505.47" y="166" font-size="8.5" stroke="#000" stroke-width="0.3" fill="#000">10</text>
<text x="515.13" y="162.2" font-size="6.6" stroke="#000" stroke-width="0.3" fill="#000">4</text>
<text x="353.3" y="10" font-size="12" font-weight="bold" stroke="#000" stroke-width="0.2" fill="#000">C</text>
<text x="364" y="79.3" font-size="9" text-anchor="middle" font-weight="bold" transform="rotate(-90 364 79.3)" stroke="#000" stroke-width="0.2" fill="#000">A492</text>
<text x="443.2" y="178" font-size="8.9" text-anchor="middle" font-weight="bold" stroke="#000" stroke-width="0.2" fill="#000">1/dilution</text>
<polyline points="380.2,42.1 395.74,42.7 411.28,45.3 426.83,47.5 442.37,59.6 457.91,83 473.45,98.1 489,106.7" fill="none" stroke="#000" stroke-width="1.15" stroke-linejoin="round"/>
<polyline points="380.2,42.1 395.74,44.8 411.28,49.7 426.83,70.4 442.37,94.6 457.91,102.2 473.45,105.9 489,110.2" fill="none" stroke="#000" stroke-width="1.15" stroke-linejoin="round"/>
<circle cx="380.2" cy="42.1" r="2.9" fill="#fff" stroke="#000" stroke-width="1"/>
<circle cx="395.74" cy="42.7" r="2.9" fill="#fff" stroke="#000" stroke-width="1"/>
<circle cx="411.28" cy="45.3" r="2.9" fill="#fff" stroke="#000" stroke-width="1"/>
<circle cx="426.83" cy="47.5" r="2.9" fill="#fff" stroke="#000" stroke-width="1"/>
<circle cx="442.37" cy="59.6" r="2.9" fill="#fff" stroke="#000" stroke-width="1"/>
<circle cx="457.91" cy="83" r="2.9" fill="#fff" stroke="#000" stroke-width="1"/>
<circle cx="473.45" cy="98.1" r="2.9" fill="#fff" stroke="#000" stroke-width="1"/>
<circle cx="489" cy="106.7" r="2.9" fill="#fff" stroke="#000" stroke-width="1"/>
<circle cx="380.2" cy="42.1" r="2.9" fill="#000" stroke="#000" stroke-width="1"/>
<circle cx="395.74" cy="44.8" r="2.9" fill="#000" stroke="#000" stroke-width="1"/>
<circle cx="411.28" cy="49.7" r="2.9" fill="#000" stroke="#000" stroke-width="1"/>
<circle cx="426.83" cy="70.4" r="2.9" fill="#000" stroke="#000" stroke-width="1"/>
<circle cx="442.37" cy="94.6" r="2.9" fill="#000" stroke="#000" stroke-width="1"/>
<circle cx="457.91" cy="102.2" r="2.9" fill="#000" stroke="#000" stroke-width="1"/>
<circle cx="473.45" cy="105.9" r="2.9" fill="#000" stroke="#000" stroke-width="1"/>
<circle cx="489" cy="110.2" r="2.9" fill="#000" stroke="#000" stroke-width="1"/>
<line x1="404.1" y1="117.4" x2="422.9" y2="117.4" stroke="#000" stroke-width="1"/>
<circle cx="413.5" cy="117.4" r="2.9" fill="#fff" stroke="#000" stroke-width="1"/>
<text x="429.6" y="121.8" font-size="7.4" stroke="#000" stroke-width="0.3" fill="#000">CD28(+/-)</text>
<line x1="404.1" y1="126.1" x2="422.9" y2="126.1" stroke="#000" stroke-width="1"/>
<circle cx="413.5" cy="126.1" r="2.9" fill="#000" stroke="#000" stroke-width="1"/>
<text x="429.6" y="130.5" font-size="7.4" stroke="#000" stroke-width="0.3" fill="#000">CD28(-/-)</text>
<line x1="28.2" y1="203.5" x2="158.6" y2="203.5" stroke="#333" stroke-width="1.1"/>
<line x1="158.6" y1="203.5" x2="158.6" y2="340.8" stroke="#333" stroke-width="1.1"/>
<line x1="28.2" y1="203" x2="28.2" y2="342.3" stroke="#000" stroke-width="1.45"/>
<line x1="26.7" y1="340.8" x2="159.1" y2="340.8" stroke="#000" stroke-width="1.45"/>
<line x1="25" y1="340.8" x2="28.2" y2="340.8" stroke="#000" stroke-width="1"/>
<line x1="26.2" y1="327.07" x2="28.2" y2="327.07" stroke="#000" stroke-width="1"/>
<line x1="25" y1="313.34" x2="28.2" y2="313.34" stroke="#000" stroke-width="1"/>
<line x1="26.2" y1="299.61" x2="28.2" y2="299.61" stroke="#000" stroke-width="1"/>
<line x1="25" y1="285.88" x2="28.2" y2="285.88" stroke="#000" stroke-width="1"/>
<line x1="26.2" y1="272.15" x2="28.2" y2="272.15" stroke="#000" stroke-width="1"/>
<line x1="25" y1="258.42" x2="28.2" y2="258.42" stroke="#000" stroke-width="1"/>
<line x1="26.2" y1="244.69" x2="28.2" y2="244.69" stroke="#000" stroke-width="1"/>
<line x1="25" y1="230.96" x2="28.2" y2="230.96" stroke="#000" stroke-width="1"/>
<line x1="26.2" y1="217.23" x2="28.2" y2="217.23" stroke="#000" stroke-width="1"/>
<line x1="25" y1="203.5" x2="28.2" y2="203.5" stroke="#000" stroke-width="1"/>
<line x1="28.2" y1="340.8" x2="28.2" y2="344" stroke="#000" stroke-width="1"/>
<line x1="41.28" y1="340.8" x2="41.28" y2="343" stroke="#000" stroke-width="0.9"/>
<line x1="48.94" y1="340.8" x2="48.94" y2="343" stroke="#000" stroke-width="0.9"/>
<line x1="54.37" y1="340.8" x2="54.37" y2="343" stroke="#000" stroke-width="0.9"/>
<line x1="58.58" y1="340.8" x2="58.58" y2="343" stroke="#000" stroke-width="0.9"/>
<line x1="62.02" y1="340.8" x2="62.02" y2="343" stroke="#000" stroke-width="0.9"/>
<line x1="64.93" y1="340.8" x2="64.93" y2="343" stroke="#000" stroke-width="0.9"/>
<line x1="67.45" y1="340.8" x2="67.45" y2="343" stroke="#000" stroke-width="0.9"/>
<line x1="69.68" y1="340.8" x2="69.68" y2="343" stroke="#000" stroke-width="0.9"/>
<line x1="71.67" y1="340.8" x2="71.67" y2="344" stroke="#000" stroke-width="1"/>
<line x1="84.75" y1="340.8" x2="84.75" y2="343" stroke="#000" stroke-width="0.9"/>
<line x1="92.41" y1="340.8" x2="92.41" y2="343" stroke="#000" stroke-width="0.9"/>
<line x1="97.84" y1="340.8" x2="97.84" y2="343" stroke="#000" stroke-width="0.9"/>
<line x1="102.05" y1="340.8" x2="102.05" y2="343" stroke="#000" stroke-width="0.9"/>
<line x1="105.49" y1="340.8" x2="105.49" y2="343" stroke="#000" stroke-width="0.9"/>
<line x1="108.4" y1="340.8" x2="108.4" y2="343" stroke="#000" stroke-width="0.9"/>
<line x1="110.92" y1="340.8" x2="110.92" y2="343" stroke="#000" stroke-width="0.9"/>
<line x1="113.14" y1="340.8" x2="113.14" y2="343" stroke="#000" stroke-width="0.9"/>
<line x1="115.13" y1="340.8" x2="115.13" y2="344" stroke="#000" stroke-width="1"/>
<line x1="128.22" y1="340.8" x2="128.22" y2="343" stroke="#000" stroke-width="0.9"/>
<line x1="135.87" y1="340.8" x2="135.87" y2="343" stroke="#000" stroke-width="0.9"/>
<line x1="141.3" y1="340.8" x2="141.3" y2="343" stroke="#000" stroke-width="0.9"/>
<line x1="145.52" y1="340.8" x2="145.52" y2="343" stroke="#000" stroke-width="0.9"/>
<line x1="148.96" y1="340.8" x2="148.96" y2="343" stroke="#000" stroke-width="0.9"/>
<line x1="151.87" y1="340.8" x2="151.87" y2="343" stroke="#000" stroke-width="0.9"/>
<line x1="154.39" y1="340.8" x2="154.39" y2="343" stroke="#000" stroke-width="0.9"/>
<line x1="156.61" y1="340.8" x2="156.61" y2="343" stroke="#000" stroke-width="0.9"/>
<line x1="158.6" y1="340.8" x2="158.6" y2="344" stroke="#000" stroke-width="1"/>
<text x="24.4" y="209.5" font-size="8.5" text-anchor="end" stroke="#000" stroke-width="0.3" fill="#000">50</text>
<text x="24.4" y="236.96" font-size="8.5" text-anchor="end" stroke="#000" stroke-width="0.3" fill="#000">40</text>
<text x="24.4" y="264.42" font-size="8.5" text-anchor="end" stroke="#000" stroke-width="0.3" fill="#000">30</text>
<text x="24.4" y="291.88" font-size="8.5" text-anchor="end" stroke="#000" stroke-width="0.3" fill="#000">20</text>
<text x="24.4" y="319.34" font-size="8.5" text-anchor="end" stroke="#000" stroke-width="0.3" fill="#000">10</text>
<text x="24.4" y="346.8" font-size="8.5" text-anchor="end" stroke="#000" stroke-width="0.3" fill="#000">0</text>
<text x="23.17" y="355.4" font-size="8.5" stroke="#000" stroke-width="0.3" fill="#000">10</text>
<text x="32.83" y="351.6" font-size="6.6" stroke="#000" stroke-width="0.3" fill="#000">-2</text>
<text x="66.64" y="355.4" font-size="8.5" stroke="#000" stroke-width="0.3" fill="#000">10</text>
<text x="76.29" y="351.6" font-size="6.6" stroke="#000" stroke-width="0.3" fill="#000">-1</text>
<text x="110.11" y="355.4" font-size="8.5" stroke="#000" stroke-width="0.3" fill="#000">10</text>
<text x="119.76" y="351.6" font-size="6.6" stroke="#000" stroke-width="0.3" fill="#000">0</text>
<text x="153.57" y="355.4" font-size="8.5" stroke="#000" stroke-width="0.3" fill="#000">10</text>
<text x="163.23" y="351.6" font-size="6.6" stroke="#000" stroke-width="0.3" fill="#000">1</text>
<text x="-0.6" y="201.6" font-size="12" font-weight="bold" stroke="#000" stroke-width="0.2" fill="#000">D</text>
<text x="11.3" y="280.6" font-size="9.1" text-anchor="middle" font-weight="bold" transform="rotate(-90 11.3 280.6)" stroke="#000" stroke-width="0.2" fill="#000">Specific lysis %</text>
<text x="96.7" y="366.7" font-size="8.7" text-anchor="middle" font-weight="bold" stroke="#000" stroke-width="0.2" fill="#000">E/T</text>
<polyline points="52.92,340.8 73.66,340.8 94.39,340.8 115.13,333.39 135.87,307.02" fill="none" stroke="#000" stroke-width="1.15" stroke-linejoin="round"/>
<polyline points="52.92,340.8 73.66,340.8 94.39,340.8 115.13,327.07 135.87,300.98" fill="none" stroke="#000" stroke-width="1.15" stroke-linejoin="round"/>
<polyline points="52.92,338.88 73.66,325.97 94.39,309.5 115.13,273.25 135.87,243.04" fill="none" stroke="#000" stroke-width="1.15" stroke-linejoin="round"/>
<polyline points="52.92,335.31 73.66,307.85 94.39,252.38 115.13,250.18 135.87,212.84" fill="none" stroke="#000" stroke-width="1.15" stroke-linejoin="round"/>
<circle cx="52.92" cy="340.8" r="2.9" fill="#fff" stroke="#000" stroke-width="1"/>
<circle cx="73.66" cy="340.8" r="2.9" fill="#fff" stroke="#000" stroke-width="1"/>
<circle cx="94.39" cy="340.8" r="2.9" fill="#fff" stroke="#000" stroke-width="1"/>
<circle cx="115.13" cy="333.39" r="2.9" fill="#fff" stroke="#000" stroke-width="1"/>
<circle cx="135.87" cy="307.02" r="2.9" fill="#fff" stroke="#000" stroke-width="1"/>
<polygon points="52.92,338.35 56.22,344.25 49.62,344.25" fill="#fff" stroke="#000" stroke-width="1" stroke-linejoin="miter"/>
<polygon points="73.66,338.35 76.96,344.25 70.36,344.25" fill="#fff" stroke="#000" stroke-width="1" stroke-linejoin="miter"/>
<polygon points="94.39,338.35 97.69,344.25 91.09,344.25" fill="#fff" stroke="#000" stroke-width="1" stroke-linejoin="miter"/>
<polygon points="115.13,324.62 118.43,330.52 111.83,330.52" fill="#fff" stroke="#000" stroke-width="1" stroke-linejoin="miter"/>
<polygon points="135.87,298.53 139.17,304.43 132.57,304.43" fill="#fff" stroke="#000" stroke-width="1" stroke-linejoin="miter"/>
<circle cx="52.92" cy="338.88" r="2.9" fill="#000" stroke="#000" stroke-width="1"/>
<circle cx="73.66" cy="325.97" r="2.9" fill="#000" stroke="#000" stroke-width="1"/>
<circle cx="94.39" cy="309.5" r="2.9" fill="#000" stroke="#000" stroke-width="1"/>
<circle cx="115.13" cy="273.25" r="2.9" fill="#000" stroke="#000" stroke-width="1"/>
<circle cx="135.87" cy="243.04" r="2.9" fill="#000" stroke="#000" stroke-width="1"/>
<polygon points="52.92,332.86 56.22,338.76 49.62,338.76" fill="#000" stroke="#000" stroke-width="1" stroke-linejoin="miter"/>
<polygon points="73.66,305.4 76.96,311.3 70.36,311.3" fill="#000" stroke="#000" stroke-width="1" stroke-linejoin="miter"/>
<polygon points="94.39,249.93 97.69,255.83 91.09,255.83" fill="#000" stroke="#000" stroke-width="1" stroke-linejoin="miter"/>
<polygon points="115.13,247.73 118.43,253.63 111.83,253.63" fill="#000" stroke="#000" stroke-width="1" stroke-linejoin="miter"/>
<polygon points="135.87,210.39 139.17,216.29 132.57,216.29" fill="#000" stroke="#000" stroke-width="1" stroke-linejoin="miter"/>
<line x1="38.6" y1="210.2" x2="57.7" y2="210.2" stroke="#000" stroke-width="1.1"/>
<circle cx="48.8" cy="210.2" r="2.9" fill="#fff" stroke="#000" stroke-width="1"/>
<text x="64.6" y="214.9" font-size="7" stroke="#000" stroke-width="0.3" fill="#000">(-/-)/-P</text>
<line x1="38.6" y1="219.2" x2="57.7" y2="219.2" stroke="#000" stroke-width="1.1"/>
<circle cx="48.8" cy="219.2" r="2.9" fill="#000" stroke="#000" stroke-width="1"/>
<text x="64.6" y="223.9" font-size="7" stroke="#000" stroke-width="0.3" fill="#000">(-/-)/+P</text>
<line x1="38.6" y1="229" x2="57.7" y2="229" stroke="#000" stroke-width="1.1"/>
<polygon points="48.8,226.05 52.1,231.95 45.5,231.95" fill="#fff" stroke="#000" stroke-width="1" stroke-linejoin="miter"/>
<text x="64.6" y="233.7" font-size="7" stroke="#000" stroke-width="0.3" fill="#000">(+/-)/-P</text>
<line x1="38.6" y1="238.2" x2="57.7" y2="238.2" stroke="#000" stroke-width="1.1"/>
<polygon points="48.8,235.25 52.1,241.15 45.5,241.15" fill="#000" stroke="#000" stroke-width="1" stroke-linejoin="miter"/>
<text x="64.6" y="242.9" font-size="7" stroke="#000" stroke-width="0.3" fill="#000">(+/-)/+P</text>
<line x1="202.9" y1="204.2" x2="332.5" y2="204.2" stroke="#333" stroke-width="1.1"/>
<line x1="332.5" y1="204.2" x2="332.5" y2="343.6" stroke="#333" stroke-width="1.1"/>
<line x1="202.9" y1="203.7" x2="202.9" y2="345.1" stroke="#000" stroke-width="1.45"/>
<line x1="201.4" y1="343.6" x2="333" y2="343.6" stroke="#000" stroke-width="1.45"/>
<line x1="199.7" y1="343.6" x2="202.9" y2="343.6" stroke="#000" stroke-width="1"/>
<line x1="200.9" y1="329.66" x2="202.9" y2="329.66" stroke="#000" stroke-width="1"/>
<line x1="199.7" y1="315.72" x2="202.9" y2="315.72" stroke="#000" stroke-width="1"/>
<line x1="200.9" y1="301.78" x2="202.9" y2="301.78" stroke="#000" stroke-width="1"/>
<line x1="199.7" y1="287.84" x2="202.9" y2="287.84" stroke="#000" stroke-width="1"/>
<line x1="200.9" y1="273.9" x2="202.9" y2="273.9" stroke="#000" stroke-width="1"/>
<line x1="199.7" y1="259.96" x2="202.9" y2="259.96" stroke="#000" stroke-width="1"/>
<line x1="200.9" y1="246.02" x2="202.9" y2="246.02" stroke="#000" stroke-width="1"/>
<line x1="199.7" y1="232.08" x2="202.9" y2="232.08" stroke="#000" stroke-width="1"/>
<line x1="200.9" y1="218.14" x2="202.9" y2="218.14" stroke="#000" stroke-width="1"/>
<line x1="199.7" y1="204.2" x2="202.9" y2="204.2" stroke="#000" stroke-width="1"/>
<line x1="202.9" y1="343.6" x2="202.9" y2="346.8" stroke="#000" stroke-width="1"/>
<line x1="215.9" y1="343.6" x2="215.9" y2="345.8" stroke="#000" stroke-width="0.9"/>
<line x1="223.51" y1="343.6" x2="223.51" y2="345.8" stroke="#000" stroke-width="0.9"/>
<line x1="228.91" y1="343.6" x2="228.91" y2="345.8" stroke="#000" stroke-width="0.9"/>
<line x1="233.1" y1="343.6" x2="233.1" y2="345.8" stroke="#000" stroke-width="0.9"/>
<line x1="236.52" y1="343.6" x2="236.52" y2="345.8" stroke="#000" stroke-width="0.9"/>
<line x1="239.41" y1="343.6" x2="239.41" y2="345.8" stroke="#000" stroke-width="0.9"/>
<line x1="241.91" y1="343.6" x2="241.91" y2="345.8" stroke="#000" stroke-width="0.9"/>
<line x1="244.12" y1="343.6" x2="244.12" y2="345.8" stroke="#000" stroke-width="0.9"/>
<line x1="246.1" y1="343.6" x2="246.1" y2="346.8" stroke="#000" stroke-width="1"/>
<line x1="259.1" y1="343.6" x2="259.1" y2="345.8" stroke="#000" stroke-width="0.9"/>
<line x1="266.71" y1="343.6" x2="266.71" y2="345.8" stroke="#000" stroke-width="0.9"/>
<line x1="272.11" y1="343.6" x2="272.11" y2="345.8" stroke="#000" stroke-width="0.9"/>
<line x1="276.3" y1="343.6" x2="276.3" y2="345.8" stroke="#000" stroke-width="0.9"/>
<line x1="279.72" y1="343.6" x2="279.72" y2="345.8" stroke="#000" stroke-width="0.9"/>
<line x1="282.61" y1="343.6" x2="282.61" y2="345.8" stroke="#000" stroke-width="0.9"/>
<line x1="285.11" y1="343.6" x2="285.11" y2="345.8" stroke="#000" stroke-width="0.9"/>
<line x1="287.32" y1="343.6" x2="287.32" y2="345.8" stroke="#000" stroke-width="0.9"/>
<line x1="289.3" y1="343.6" x2="289.3" y2="346.8" stroke="#000" stroke-width="1"/>
<line x1="302.3" y1="343.6" x2="302.3" y2="345.8" stroke="#000" stroke-width="0.9"/>
<line x1="309.91" y1="343.6" x2="309.91" y2="345.8" stroke="#000" stroke-width="0.9"/>
<line x1="315.31" y1="343.6" x2="315.31" y2="345.8" stroke="#000" stroke-width="0.9"/>
<line x1="319.5" y1="343.6" x2="319.5" y2="345.8" stroke="#000" stroke-width="0.9"/>
<line x1="322.92" y1="343.6" x2="322.92" y2="345.8" stroke="#000" stroke-width="0.9"/>
<line x1="325.81" y1="343.6" x2="325.81" y2="345.8" stroke="#000" stroke-width="0.9"/>
<line x1="328.31" y1="343.6" x2="328.31" y2="345.8" stroke="#000" stroke-width="0.9"/>
<line x1="330.52" y1="343.6" x2="330.52" y2="345.8" stroke="#000" stroke-width="0.9"/>
<line x1="332.5" y1="343.6" x2="332.5" y2="346.8" stroke="#000" stroke-width="1"/>
<text x="199.5" y="211.6" font-size="8.3" text-anchor="end" stroke="#000" stroke-width="0.3" fill="#000">0.5</text>
<text x="199.5" y="239.48" font-size="8.3" text-anchor="end" stroke="#000" stroke-width="0.3" fill="#000">0.4</text>
<text x="199.5" y="267.36" font-size="8.3" text-anchor="end" stroke="#000" stroke-width="0.3" fill="#000">0.3</text>
<text x="199.5" y="295.24" font-size="8.3" text-anchor="end" stroke="#000" stroke-width="0.3" fill="#000">0.2</text>
<text x="199.5" y="323.12" font-size="8.3" text-anchor="end" stroke="#000" stroke-width="0.3" fill="#000">0.1</text>
<text x="199.5" y="351" font-size="8.3" text-anchor="end" stroke="#000" stroke-width="0.3" fill="#000">0.0</text>
<text x="205.1" y="358.9" font-size="8.3" text-anchor="middle" stroke="#000" stroke-width="0.3" fill="#000">.1</text>
<text x="246.7" y="358.9" font-size="8.3" text-anchor="middle" stroke="#000" stroke-width="0.3" fill="#000">1</text>
<text x="292" y="358.9" font-size="8.3" text-anchor="middle" stroke="#000" stroke-width="0.3" fill="#000">10</text>
<text x="334.8" y="358.9" font-size="8.3" text-anchor="middle" stroke="#000" stroke-width="0.3" fill="#000">100</text>
<text x="173.6" y="202.3" font-size="12" font-weight="bold" stroke="#000" stroke-width="0.2" fill="#000">E</text>
<text x="179.7" y="270.9" font-size="9" text-anchor="middle" font-weight="bold" transform="rotate(-90 179.7 270.9)" stroke="#000" stroke-width="0.2" fill="#000">A492</text>
<text x="268.5" y="370.8" font-size="8.9" text-anchor="middle" font-weight="bold" stroke="#000" stroke-width="0.2" fill="#000">1/dilution</text>
<polyline points="246.1,215.3 259.1,268.3 272.11,303.9 285.11,315.4 298.12,322.8 311.12,326.6" fill="none" stroke="#000" stroke-width="1.1" stroke-linejoin="round"/>
<polyline points="246.1,295.9 259.1,312.7 272.11,321.3 285.11,324 298.12,323.8 311.12,326.6" fill="none" stroke="#000" stroke-width="1.1" stroke-linejoin="round"/>
<ellipse cx="246.1" cy="215.3" rx="2.9" ry="2.4" fill="#fff" stroke="#000" stroke-width="1.2"/>
<ellipse cx="259.1" cy="268.3" rx="2.9" ry="2.4" fill="#fff" stroke="#000" stroke-width="1.2"/>
<ellipse cx="272.11" cy="303.9" rx="2.9" ry="2.4" fill="#fff" stroke="#000" stroke-width="1.2"/>
<ellipse cx="285.11" cy="315.4" rx="2.9" ry="2.4" fill="#fff" stroke="#000" stroke-width="1.2"/>
<ellipse cx="298.12" cy="322.8" rx="2.9" ry="2.4" fill="#fff" stroke="#000" stroke-width="1.2"/>
<ellipse cx="311.12" cy="326.6" rx="2.9" ry="2.4" fill="#fff" stroke="#000" stroke-width="1.2"/>
<ellipse cx="246.1" cy="295.9" rx="3" ry="2.7" fill="#000" stroke="#000" stroke-width="1"/>
<ellipse cx="259.1" cy="312.7" rx="3" ry="2.7" fill="#000" stroke="#000" stroke-width="1"/>
<ellipse cx="272.11" cy="321.3" rx="3" ry="2.7" fill="#000" stroke="#000" stroke-width="1"/>
<ellipse cx="285.11" cy="324" rx="3" ry="2.7" fill="#000" stroke="#000" stroke-width="1"/>
<ellipse cx="298.12" cy="323.8" rx="3" ry="2.7" fill="#000" stroke="#000" stroke-width="1"/>
<ellipse cx="311.12" cy="326.6" rx="3" ry="2.7" fill="#000" stroke="#000" stroke-width="1"/>
<line x1="254.7" y1="223.7" x2="286.5" y2="223.7" stroke="#111" stroke-width="1.1"/>
<ellipse cx="271.2" cy="223.7" rx="2.9" ry="2.4" fill="#fff" stroke="#000" stroke-width="1.1"/>
<line x1="254.7" y1="232" x2="286.5" y2="232" stroke="#111" stroke-width="1.1"/>
<ellipse cx="271.2" cy="232" rx="3" ry="2.7" fill="#000" stroke="#000" stroke-width="1.1"/>
<text x="298.4" y="231" font-size="8.8" stroke="#000" stroke-width="0.3" fill="#000">Ctrl Ig</text>
<text x="298.4" y="239.3" font-size="8.8" stroke="#000" stroke-width="0.3" fill="#000">anti-B7</text>
<line x1="385.1" y1="203.7" x2="509.2" y2="203.7" stroke="#333" stroke-width="1.1"/>
<line x1="509.2" y1="203.7" x2="509.2" y2="342.8" stroke="#333" stroke-width="1.1"/>
<line x1="385.1" y1="203.2" x2="385.1" y2="344.3" stroke="#000" stroke-width="1.45"/>
<line x1="383.6" y1="342.8" x2="509.7" y2="342.8" stroke="#000" stroke-width="1.45"/>
<line x1="381.9" y1="342.8" x2="385.1" y2="342.8" stroke="#000" stroke-width="1"/>
<line x1="383.1" y1="331.21" x2="385.1" y2="331.21" stroke="#000" stroke-width="1"/>
<line x1="381.9" y1="319.62" x2="385.1" y2="319.62" stroke="#000" stroke-width="1"/>
<line x1="383.1" y1="308.02" x2="385.1" y2="308.02" stroke="#000" stroke-width="1"/>
<line x1="381.9" y1="296.43" x2="385.1" y2="296.43" stroke="#000" stroke-width="1"/>
<line x1="383.1" y1="284.84" x2="385.1" y2="284.84" stroke="#000" stroke-width="1"/>
<line x1="381.9" y1="273.25" x2="385.1" y2="273.25" stroke="#000" stroke-width="1"/>
<line x1="383.1" y1="261.66" x2="385.1" y2="261.66" stroke="#000" stroke-width="1"/>
<line x1="381.9" y1="250.07" x2="385.1" y2="250.07" stroke="#000" stroke-width="1"/>
<line x1="383.1" y1="238.47" x2="385.1" y2="238.47" stroke="#000" stroke-width="1"/>
<line x1="381.9" y1="226.88" x2="385.1" y2="226.88" stroke="#000" stroke-width="1"/>
<line x1="383.1" y1="215.29" x2="385.1" y2="215.29" stroke="#000" stroke-width="1"/>
<line x1="381.9" y1="203.7" x2="385.1" y2="203.7" stroke="#000" stroke-width="1"/>
<line x1="385.1" y1="342.8" x2="385.1" y2="346" stroke="#000" stroke-width="1"/>
<line x1="403.78" y1="342.8" x2="403.78" y2="345" stroke="#000" stroke-width="0.9"/>
<line x1="414.71" y1="342.8" x2="414.71" y2="345" stroke="#000" stroke-width="0.9"/>
<line x1="422.46" y1="342.8" x2="422.46" y2="345" stroke="#000" stroke-width="0.9"/>
<line x1="428.47" y1="342.8" x2="428.47" y2="345" stroke="#000" stroke-width="0.9"/>
<line x1="433.38" y1="342.8" x2="433.38" y2="345" stroke="#000" stroke-width="0.9"/>
<line x1="437.54" y1="342.8" x2="437.54" y2="345" stroke="#000" stroke-width="0.9"/>
<line x1="441.14" y1="342.8" x2="441.14" y2="345" stroke="#000" stroke-width="0.9"/>
<line x1="444.31" y1="342.8" x2="444.31" y2="345" stroke="#000" stroke-width="0.9"/>
<line x1="447.15" y1="342.8" x2="447.15" y2="346" stroke="#000" stroke-width="1"/>
<line x1="465.83" y1="342.8" x2="465.83" y2="345" stroke="#000" stroke-width="0.9"/>
<line x1="476.76" y1="342.8" x2="476.76" y2="345" stroke="#000" stroke-width="0.9"/>
<line x1="484.51" y1="342.8" x2="484.51" y2="345" stroke="#000" stroke-width="0.9"/>
<line x1="490.52" y1="342.8" x2="490.52" y2="345" stroke="#000" stroke-width="0.9"/>
<line x1="495.43" y1="342.8" x2="495.43" y2="345" stroke="#000" stroke-width="0.9"/>
<line x1="499.59" y1="342.8" x2="499.59" y2="345" stroke="#000" stroke-width="0.9"/>
<line x1="503.19" y1="342.8" x2="503.19" y2="345" stroke="#000" stroke-width="0.9"/>
<line x1="506.36" y1="342.8" x2="506.36" y2="345" stroke="#000" stroke-width="0.9"/>
<line x1="509.2" y1="342.8" x2="509.2" y2="346" stroke="#000" stroke-width="1"/>
<text x="381.6" y="210.7" font-size="8.3" text-anchor="end" stroke="#000" stroke-width="0.3" fill="#000">60</text>
<text x="381.6" y="233.88" font-size="8.3" text-anchor="end" stroke="#000" stroke-width="0.3" fill="#000">50</text>
<text x="381.6" y="257.07" font-size="8.3" text-anchor="end" stroke="#000" stroke-width="0.3" fill="#000">40</text>
<text x="381.6" y="280.25" font-size="8.3" text-anchor="end" stroke="#000" stroke-width="0.3" fill="#000">30</text>
<text x="381.6" y="303.43" font-size="8.3" text-anchor="end" stroke="#000" stroke-width="0.3" fill="#000">20</text>
<text x="381.6" y="326.62" font-size="8.3" text-anchor="end" stroke="#000" stroke-width="0.3" fill="#000">10</text>
<text x="381.6" y="349.8" font-size="8.3" text-anchor="end" stroke="#000" stroke-width="0.3" fill="#000">0</text>
<text x="387.5" y="357.8" font-size="8.3" text-anchor="middle" stroke="#000" stroke-width="0.3" fill="#000">.1</text>
<text x="448.15" y="357.8" font-size="8.3" text-anchor="middle" stroke="#000" stroke-width="0.3" fill="#000">1</text>
<text x="510.2" y="357.8" font-size="8.3" text-anchor="middle" stroke="#000" stroke-width="0.3" fill="#000">10</text>
<text x="354" y="202.6" font-size="12" font-weight="bold" stroke="#000" stroke-width="0.2" fill="#000">F</text>
<text x="365.8" y="266.1" font-size="9.1" text-anchor="middle" font-weight="bold" transform="rotate(-90 365.8 266.1)" stroke="#000" stroke-width="0.2" fill="#000">Specific lysis %</text>
<text x="449.3" y="372.7" font-size="8.3" text-anchor="middle" font-weight="bold" stroke="#000" stroke-width="0.2" fill="#000">E/T</text>
<polyline points="385.1,331 414.71,319.5 447.15,282.5 476.76,219.7" fill="none" stroke="#000" stroke-width="1.1" stroke-linejoin="round"/>
<polyline points="385.1,331 414.71,312.7 447.15,282.5 476.76,229" fill="none" stroke="#000" stroke-width="1.1" stroke-linejoin="round"/>
<ellipse cx="385.1" cy="331" rx="2.9" ry="2.4" fill="#fff" stroke="#000" stroke-width="1.2"/>
<ellipse cx="414.71" cy="319.5" rx="2.9" ry="2.4" fill="#fff" stroke="#000" stroke-width="1.2"/>
<ellipse cx="447.15" cy="282.5" rx="2.9" ry="2.4" fill="#fff" stroke="#000" stroke-width="1.2"/>
<ellipse cx="476.76" cy="219.7" rx="2.9" ry="2.4" fill="#fff" stroke="#000" stroke-width="1.2"/>
<ellipse cx="385.1" cy="331" rx="3" ry="2.7" fill="#000" stroke="#000" stroke-width="1"/>
<ellipse cx="414.71" cy="312.7" rx="3" ry="2.7" fill="#000" stroke="#000" stroke-width="1"/>
<ellipse cx="447.15" cy="282.5" rx="3" ry="2.7" fill="#000" stroke="#000" stroke-width="1"/>
<ellipse cx="476.76" cy="229" rx="3" ry="2.7" fill="#000" stroke="#000" stroke-width="1"/>
<line x1="392.8" y1="213.9" x2="422.9" y2="213.9" stroke="#111" stroke-width="1.1"/>
<ellipse cx="408.4" cy="213.9" rx="2.9" ry="2.4" fill="#fff" stroke="#000" stroke-width="1.1"/>
<line x1="392.8" y1="222.6" x2="422.9" y2="222.6" stroke="#111" stroke-width="1.1"/>
<ellipse cx="408.4" cy="222.6" rx="3" ry="2.7" fill="#000" stroke="#000" stroke-width="1.1"/>
<text x="434.9" y="221.4" font-size="8.7" stroke="#000" stroke-width="0.3" fill="#000">Ctrl Ig</text>
<text x="434.9" y="229.7" font-size="8.7" stroke="#000" stroke-width="0.3" fill="#000">anti-B7</text>
</svg>
</body></html>
